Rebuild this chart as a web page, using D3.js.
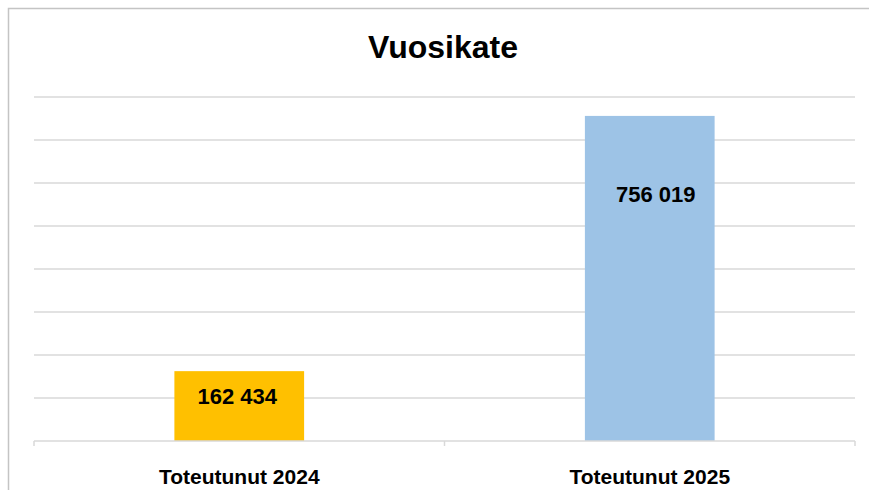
<!DOCTYPE html>
<html lang="fi">
	<head>
		<meta charset="utf-8">
		<title>Vuosikate</title>
		<script src="https://d3js.org/d3.v7.min.js"></script>
		<style type="text/css">
			body {
				margin: 0;
				background: #ffffff;
			}
			text {
				font-family: "Liberation Sans", Arial, sans-serif;
				font-weight: bold;
				fill: #000000;
			}
		</style>
	</head>
	<body>
		<script type="text/javascript">
			// Data
			var categories = ["Toteutunut 2024", "Toteutunut 2025"];
			var values = [162434, 756019];
			var barColors = ["#FFC000", "#9DC3E6"];
			var gridTicks = [0, 100000, 200000, 300000, 400000, 500000, 600000, 700000, 800000];

			// Size and layout
			var w = 869;
			var h = 490;
			var plot = {left: 34, right: 855, top: 97, bottom: 441};

			// label placement inside the bars (px from bar top, px from bar centre)
			var labelDy = [33, 86];
			var labelDx = [-2, 6];

			var svg = d3.select("body")
						.append("svg")
						.attr("width", w)
						.attr("height", h);

			// outer chart frame (only top and left edges fall inside the picture)
			svg.append("rect")
				.attr("x", 8.5)
				.attr("y", 8.5)
				.attr("width", 1000)
				.attr("height", 1000)
				.attr("fill", "none")
				.attr("stroke", "#c4c4c4")
				.attr("stroke-width", 1.5);

			// Scales
			var xScale = d3.scaleBand()
				.domain(categories)
				.range([plot.left, plot.right])
				.paddingInner(0.684)
				.paddingOuter(0.342);

			var yScale = d3.scaleLinear()
				.domain([0, 800000])
				.range([plot.bottom, plot.top]);

			// Gridlines
			svg.append("g")
				.selectAll("line")
				.data(gridTicks.slice(1))
				.enter()
				.append("line")
				.attr("x1", plot.left)
				.attr("x2", plot.right)
				.attr("y1", function(d) { return yScale(d); })
				.attr("y2", function(d) { return yScale(d); })
				.attr("stroke", "#d9d9d9")
				.attr("stroke-width", 1.5);

			// Bars
			svg.selectAll("rect.bar")
				.data(values)
				.enter()
				.append("rect")
				.attr("class", "bar")
				.attr("x", function(d, i) { return xScale(categories[i]); })
				.attr("y", function(d) { return yScale(d); })
				.attr("width", xScale.bandwidth())
				.attr("height", function(d) { return yScale(0) - yScale(d); })
				.attr("fill", function(d, i) { return barColors[i]; });

			// X axis: baseline with category boundary ticks
			var xAxis = d3.axisBottom(xScale)
				.tickSize(0)
				.tickPadding(28);

			var axisG = svg.append("g")
				.attr("transform", "translate(0," + plot.bottom + ")")
				.call(xAxis);

			axisG.select(".domain").remove();
			axisG.selectAll("text")
				.style("font-size", "21px")
				.style("font-family", "\"Liberation Sans\", Arial, sans-serif")
				.style("font-weight", "bold")
				.attr("fill", "#000");

			var step = xScale.step();
			var bounds = [plot.left, plot.left + step, plot.right];

			axisG.append("line")
				.attr("x1", plot.left)
				.attr("x2", plot.right)
				.attr("y1", 0)
				.attr("y2", 0)
				.attr("stroke", "#d9d9d9")
				.attr("stroke-width", 1.5);

			axisG.selectAll("line.bound")
				.data(bounds)
				.enter()
				.append("line")
				.attr("class", "bound")
				.attr("x1", function(d) { return d; })
				.attr("x2", function(d) { return d; })
				.attr("y1", 0)
				.attr("y2", 5)
				.attr("stroke", "#d9d9d9")
				.attr("stroke-width", 1.5);

			// Data labels
			var fmt = function(v) {
				return d3.format(",")(v).replace(/,/g, " ");
			};

			svg.selectAll("text.value")
				.data(values)
				.enter()
				.append("text")
				.attr("class", "value")
				.attr("x", function(d, i) { return xScale(categories[i]) + xScale.bandwidth() / 2 + labelDx[i]; })
				.attr("y", function(d, i) { return yScale(d) + labelDy[i]; })
				.attr("text-anchor", "middle")
				.style("font-size", "22px")
				.text(fmt);

			// Title
			svg.append("text")
				.attr("x", 443)
				.attr("y", 58)
				.attr("text-anchor", "middle")
				.style("font-size", "32px")
				.text("Vuosikate");
		</script>
	</body>
</html>
